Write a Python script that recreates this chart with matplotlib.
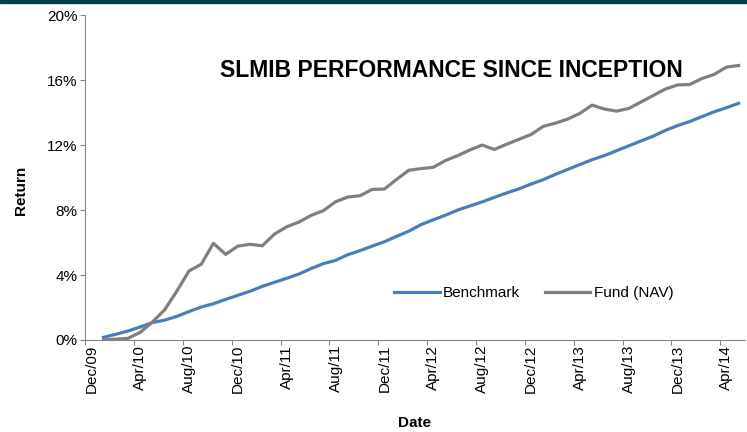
import matplotlib
matplotlib.use("Agg")
import matplotlib.pyplot as plt
from matplotlib.patches import Rectangle

plt.rcParams["font.family"] = ["Liberation Sans", "DejaVu Sans"]

# months since Dec/09 (monthly points Jan/10 .. May/14, placed mid-month)
months = [k + 0.5 for k in range(1, 54)]

benchmark = [0.16, 0.35, 0.55, 0.80, 1.07, 1.22, 1.45, 1.75, 2.03, 2.23,
             2.50, 2.75, 3.00, 3.30, 3.55, 3.80, 4.06, 4.40, 4.70, 4.90,
             5.25, 5.50, 5.78, 6.05, 6.38, 6.70, 7.10, 7.40, 7.68, 8.00,
             8.25, 8.50, 8.78, 9.05, 9.30, 9.60, 9.87, 10.20, 10.50, 10.80,
             11.10, 11.35, 11.65, 11.95, 12.25, 12.55, 12.90, 13.20, 13.45, 13.75,
             14.05, 14.30, 14.57]

fund_nav = [0.00, 0.05, 0.10, 0.47, 1.10, 1.85, 3.00, 4.25, 4.66, 5.95,
            5.27, 5.78, 5.89, 5.80, 6.52, 6.97, 7.26, 7.67, 7.96, 8.51,
            8.80, 8.88, 9.27, 9.29, 9.89, 10.45, 10.55, 10.63, 11.05, 11.35,
            11.70, 12.00, 11.73, 12.05, 12.35, 12.65, 13.15, 13.35, 13.60, 13.95,
            14.46, 14.22, 14.09, 14.25, 14.65, 15.05, 15.45, 15.70, 15.73, 16.10,
            16.35, 16.80, 16.90]

tick_pos = list(range(0, 53, 4))
tick_labels = ["Dec/09", "Apr/10", "Aug/10", "Dec/10", "Apr/11", "Aug/11", "Dec/11",
               "Apr/12", "Aug/12", "Dec/12", "Apr/13", "Aug/13", "Dec/13", "Apr/14"]

fig = plt.figure(figsize=(7.47, 4.32), dpi=100)
ax = fig.add_axes([0.114, 0.213, 0.883, 0.752])

ax.plot(months, benchmark, color="#4a7ebb", lw=2.3, label="Benchmark")
ax.plot(months, fund_nav, color="#808080", lw=2.3, label="Fund (NAV)")

ax.set_xlim(0, 54)
ax.set_ylim(0, 20)
ax.set_yticks([0, 4, 8, 12, 16, 20])
ax.set_yticklabels([f"{v}%" for v in [0, 4, 8, 12, 16, 20]], fontsize=11)

# tick marks at month starts, labels centred on the month (Excel style)
ax.set_xticks(tick_pos)
ax.set_xticklabels([])
ax.set_xticks([p + 0.5 for p in tick_pos], minor=True)
ax.set_xticklabels(tick_labels, minor=True, rotation=90, fontsize=11)
ax.tick_params(axis="x", which="minor", length=0, pad=3.5)

for side in ["top", "right"]:
    ax.spines[side].set_visible(False)
for side in ["left", "bottom"]:
    ax.spines[side].set_color("#868686")
ax.tick_params(axis="both", which="major", direction="out", length=3.5,
               color="#868686", pad=2)

ax.set_ylabel("Return", fontsize=11, fontweight="bold")
ax.yaxis.set_label_coords(-0.087, 0.46)
ax.set_xlabel("Date", fontsize=11, fontweight="bold", labelpad=16)

ax.text(0.555, 0.83, "SLMIB PERFORMANCE SINCE INCEPTION", transform=ax.transAxes,
        ha="center", va="center", fontsize=16.5, fontweight="bold")

ax.legend(loc="center", bbox_to_anchor=(0.68, 0.145), ncol=2, frameon=False,
          fontsize=11, handlelength=3.0, handletextpad=0.2, columnspacing=1.6)

# dark band along the top edge
fig.patches.append(Rectangle((0, 1 - 3 / 432), 1, 3 / 432, transform=fig.transFigure,
                             color="#033f4a", zorder=10))

fig.savefig("out.png", dpi=100)
